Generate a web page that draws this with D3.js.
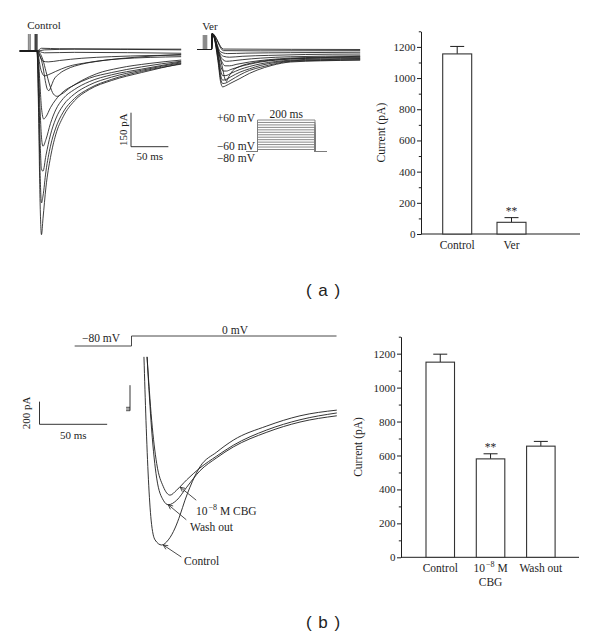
<!DOCTYPE html>
<html><head><meta charset="utf-8">
<script src="https://cdn.jsdelivr.net/npm/d3@7"></script>
<style>body{margin:0;background:#fff}</style>
</head><body>
<svg id="c" width="600" height="641" xmlns="http://www.w3.org/2000/svg"></svg>
<script>
// ---------------- DATA ----------------
// Panel (a) control current traces: [time ms, current pA]
const ctrlPreT = -23;
const ctrlTraces = [
  [[0,0],[2,-250],[4,-650],[6,-810],[8,-740],[12,-600],[18,-470],[25,-370],[35,-290],[50,-220],[70,-170],[100,-130],[140,-95],[193,-55]],
  [[0,0],[2,-200],[4,-520],[6,-670],[8,-640],[12,-530],[18,-420],[25,-340],[35,-270],[50,-210],[70,-165],[100,-125],[140,-90],[193,-58]],
  [[0,0],[2,-120],[4,-380],[6,-520],[8,-530],[12,-460],[18,-370],[25,-300],[35,-240],[50,-190],[70,-150],[100,-115],[140,-85],[193,-52]],
  [[0,0],[2,-80],[4,-250],[6,-380],[8,-420],[12,-390],[18,-320],[25,-260],[35,-210],[50,-170],[70,-135],[100,-105],[140,-80],[193,-48]],
  [[0,0],[2,-40],[4,-150],[6,-250],[9,-300],[12,-290],[18,-250],[25,-215],[35,-180],[50,-150],[70,-120],[100,-95],[140,-70],[193,-45]],
  [[0,0],[4,-20],[8,-70],[11,-130],[14,-170],[16,-175],[19,-155],[22,-130],[30,-100],[40,-80],[60,-58],[84,-44],[130,-28],[193,-15]],
  [[0,0],[4,-10],[8,-40],[12,-90],[17,-150],[22,-190],[27,-200],[33,-190],[45,-160],[60,-130],[80,-100],[110,-75],[150,-55],[193,-40]],
  [[0,0],[4,-25],[8,-45],[15,-48],[30,-42],[60,-32],[100,-25],[150,-20],[193,-18]],
  [[0,0],[5,-80],[10,-110],[15,-105],[25,-90],[40,-70],[70,-50],[110,-35],[193,-25]],
  [[0,0],[10,-8],[50,-6],[193,-10]],
  [[0,0],[10,5],[50,8],[193,5]],
  [[0,0],[6,12],[30,10],[193,8]]
];
const ctrlSpikes = [-2.5, -1.3, 0];      // capacitive transients (ms)
const ctrlArtifacts = [-11.2, -9.2];     // grey leak-pulse artifacts (ms)
const spikeAmp = 75;                     // pA

// Panel (a) verapamil traces
const verPre = [[-25,0],[-6,0],[-5,70]];
const verTraces = [
  [[3,-60],[6,-140],[9,-165],[13,-160],[20,-148],[32,-128],[45,-105],[55,-91],[75,-70],[100,-55],[140,-50],[193,-47]],
  [[3,-50],[6,-125],[9,-150],[13,-148],[20,-135],[32,-112],[45,-92],[60,-78],[80,-62],[100,-52],[140,-48],[193,-45]],
  [[3,-40],[6,-110],[9,-135],[13,-133],[20,-120],[32,-100],[45,-85],[60,-70],[80,-57],[100,-50],[140,-45],[193,-42]],
  [[3,-30],[6,-90],[9,-115],[13,-115],[20,-105],[32,-88],[45,-75],[60,-63],[80,-53],[100,-47],[140,-42],[193,-40]],
  [[3,-20],[6,-70],[10,-95],[14,-95],[20,-88],[32,-75],[45,-65],[60,-55],[80,-47],[100,-42],[140,-38],[193,-36]],
  [[4,-20],[8,-70],[12,-130],[14,-140],[17,-120],[22,-95],[32,-75],[50,-58],[80,-45],[120,-38],[193,-33]],
  [[4,-20],[8,-55],[12,-72],[18,-72],[28,-65],[45,-55],[70,-45],[100,-38],[140,-34],[193,-30]],
  [[4,-15],[8,-40],[14,-52],[22,-50],[35,-45],[60,-38],[100,-32],[193,-28]],
  [[5,-15],[10,-30],[18,-34],[35,-30],[70,-26],[120,-22],[193,-20]],
  [[6,-10],[15,-18],[40,-16],[100,-14],[193,-12]],
  [[10,-5],[60,-6],[193,-5]],
  [[10,2],[193,0]]
];
const verArtifacts = [-17, -15.5, -14, -12.5];

// Voltage protocol (a)
const protoTimes = [-40, 0, 200, 240];
const protoHold = -80;
const protoLevels = d3.range(-60, 61, 10);

// Panel (b) traces
const bTraces = {
  control: [[9.2,460],[10.7,-100],[12.5,-620],[14.5,-980],[17.4,-1155],[22.3,-1200],[27.2,-1155],[32.2,-1050],[35.9,-935],[39.5,-805],[43.2,-690],[46.9,-590],[50.6,-510],[63,-380],[75.2,-275],[100,-150],[124.5,-60],[151.7,-10]],
  cbg:     [[11.5,460],[14.9,-100],[18.6,-480],[23.5,-685],[28.5,-760],[33.4,-715],[40.8,-625],[50.6,-520],[63,-415],[75.2,-320],[100,-185],[124.5,-95],[151.7,-35]],
  wash:    [[11.5,460],[14.9,-185],[18.6,-610],[23.5,-805],[27.2,-845],[33.4,-805],[40.8,-690],[50.6,-545],[63,-430],[75.2,-335],[100,-205],[124.5,-115],[151.7,-60]]
};
const bPreBaselines = [15, 0, -15];   // pA
const bPreTimes = [-4, -1.1];
const bSpikeTop = 210;                // pA
const bProtoTimes = [-42, 0, 151.5];
const bProtoLevels = [-80, 0];

// Bar charts
const catsA = ["Control", "Ver"];
const valsA = [1155, 75];
const errsA = [48, 30];
const sigA  = ["", "**"];

const catsB = ["Control", "CBG", "Wash out"];
const valsB = [1150, 580, 655];
const errsB = [47, 30, 28];
const sigB  = ["", "**", ""];

const yTicks = d3.range(0, 1201, 200);
const yMinor = d3.range(100, 1301, 200);

// ---------------- DRAW ----------------
const svg = d3.select("#c");
const serif = "'Liberation Serif','Times New Roman',serif";
const ink = "#1e1e1e";

function txt(x, y, s, opts = {}) {
  return svg.append("text").attr("x", x).attr("y", y).text(s)
    .attr("font-family", opts.family || serif)
    .attr("font-size", opts.size || 11.5)
    .attr("fill", ink)
    .attr("text-anchor", opts.anchor || "start")
    .attr("transform", opts.rotate ? `rotate(-90,${x},${y})` : null);
}

// ---- Panel a: control traces
const xA = d3.scaleLinear().domain([0, 200]).range([37, 186.4]);
const yA = d3.scaleLinear().domain([0, -800]).range([51, 232.4]);
const lineA = d3.line().x(d => xA(d[0])).y(d => yA(d[1])).curve(d3.curveMonotoneX);
const gA = svg.append("g");
ctrlArtifacts.forEach(t => gA.append("line")
  .attr("x1", xA(t)).attr("x2", xA(t)).attr("y1", yA(0)).attr("y2", yA(spikeAmp))
  .attr("stroke", "#8a8a8a").attr("stroke-width", 1.6));
ctrlTraces.forEach(tr => gA.append("path").attr("d", lineA([[ctrlPreT, 0], ...tr]))
  .attr("fill", "none").attr("stroke", ink).attr("stroke-width", 0.85));
ctrlSpikes.forEach(t => gA.append("line")
  .attr("x1", xA(t)).attr("x2", xA(t)).attr("y1", yA(0)).attr("y2", yA(spikeAmp))
  .attr("stroke", ink).attr("stroke-width", 1.1));
txt(44, 29, "Control", {anchor: "middle", size: 11});

// scale bar (a)
{
  const x0 = 131, y0 = 146.7;
  const w = xA(50) - xA(0), h = yA(-150) - yA(0);
  svg.append("path").attr("d", `M${x0},${y0 - h}V${y0}H${x0 + w}`)
    .attr("fill", "none").attr("stroke", ink).attr("stroke-width", 0.9);
  txt(127, y0 - h / 2, "150 pA", {anchor: "middle", rotate: true, size: 11});
  txt(x0 + w / 2, 160, "50 ms", {anchor: "middle", size: 11});
}

// ---- Panel a: verapamil traces
const xV = d3.scaleLinear().domain([0, 200]).range([216, 365.4]);
const yV = d3.scaleLinear().domain([0, -800]).range([49.5, 230.9]);
const lineV = d3.line().x(d => xV(d[0])).y(d => yV(d[1])).curve(d3.curveMonotoneX);
verArtifacts.forEach(t => svg.append("line")
  .attr("x1", xV(t)).attr("x2", xV(t)).attr("y1", yV(0)).attr("y2", yV(64))
  .attr("stroke", "#8a8a8a").attr("stroke-width", 1.3));
verTraces.forEach(tr => svg.append("path").attr("d", lineV([...verPre, ...tr]))
  .attr("fill", "none").attr("stroke", ink).attr("stroke-width", 0.85));
txt(210, 30, "Ver", {anchor: "middle", size: 11});

// ---- Voltage protocol (a)
const xP = d3.scaleLinear().domain([0, 200]).range([257.5, 315]);
const yP = d3.scaleLinear().domain([-80, -60, 60]).range([151.5, 149.5, 120]);
const lineP = d3.line().x(d => xP(d[0])).y(d => yP(d[1]));
protoLevels.forEach(v => {
  const pts = [[protoTimes[0], protoHold], [protoTimes[1], protoHold], [protoTimes[1], v],
               [protoTimes[2], v], [protoTimes[2], protoHold], [protoTimes[3], protoHold]];
  svg.append("path").attr("d", lineP(pts)).attr("fill", "none")
    .attr("stroke", "#7c7c7c").attr("stroke-width", 0.9);
});
txt(255, 122, "+60 mV", {anchor: "end", size: 11.5});
txt(255, 149.5, "\u221260 mV", {anchor: "end", size: 11.5});
txt(255, 162, "\u221280 mV", {anchor: "end", size: 11.5});
txt((xP(0) + xP(200)) / 2, 118, "200 ms", {anchor: "middle", size: 11.5});

// ---- Panel b traces
const xB = d3.scaleLinear().domain([0, 150]).range([131.5, 334.5]);
const yB = d3.scaleLinear().domain([0, -1200]).range([409, 545]);
const lineB = d3.line().x(d => xB(d[0])).y(d => yB(d[1])).curve(d3.curveMonotoneX);
Object.values(bTraces).forEach(tr => svg.append("path").attr("d", lineB(tr))
  .attr("fill", "none").attr("stroke", ink).attr("stroke-width", 0.9));
bPreBaselines.forEach(b => svg.append("path")
  .attr("d", d3.line().x(d => xB(d[0])).y(d => yB(d[1]))([[bPreTimes[0], b], [bPreTimes[1], b]]))
  .attr("fill", "none").attr("stroke", ink).attr("stroke-width", 0.8));
svg.append("line").attr("x1", xB(bPreTimes[1])).attr("x2", xB(bPreTimes[1]))
  .attr("y1", yB(bPreBaselines[2])).attr("y2", yB(bSpikeTop))
  .attr("stroke", ink).attr("stroke-width", 0.9);

// protocol b
const yBp = d3.scaleLinear().domain([-80, 0]).range([346, 336]);
svg.append("path").attr("d", d3.line().x(d => xB(d[0])).y(d => yBp(d[1]))([
  [bProtoTimes[0], bProtoLevels[0]], [bProtoTimes[1], bProtoLevels[0]],
  [bProtoTimes[1], bProtoLevels[1]], [bProtoTimes[2], bProtoLevels[1]]]))
  .attr("fill", "none").attr("stroke", "#333").attr("stroke-width", 0.9);
txt(101, 342, "\u221280 mV", {anchor: "middle", size: 11.5});
txt(235, 333.5, "0 mV", {anchor: "middle", size: 11.5});

// scale bar b
{
  const x0 = 39.5, y0 = 424.3;
  const w = xB(50) - xB(0), h = yB(-200) - yB(0);
  svg.append("path").attr("d", `M${x0},${y0 - h}V${y0}H${x0 + w}`)
    .attr("fill", "none").attr("stroke", ink).attr("stroke-width", 0.9);
  txt(30, y0 - h / 2, "200 pA", {anchor: "middle", rotate: true, size: 11});
  txt(x0 + w / 2, 439, "50 ms", {anchor: "middle", size: 11});
}

// annotations with arrows
function arrow(tip, tail) {
  const ang = Math.atan2(tail[1] - tip[1], tail[0] - tip[0]);
  const L = 5, a = 0.45;
  const p1 = [tip[0] + L * Math.cos(ang + a), tip[1] + L * Math.sin(ang + a)];
  const p2 = [tip[0] + L * Math.cos(ang - a), tip[1] + L * Math.sin(ang - a)];
  svg.append("path").attr("d", `M${tail}L${tip}M${p1}L${tip}L${p2}`)
    .attr("fill", "none").attr("stroke", ink).attr("stroke-width", 0.8);
}
{
  const tipC = [xB(36), yB(-690)];
  arrow(tipC, [tipC[0] + 16, tipC[1] + 13]);
  const t = txt(196, 514.5, "10", {size: 11.5});
  t.append("tspan").text("\u22128").attr("font-size", 8).attr("dy", -4.5).attr("dx", 1);
  t.append("tspan").text(" M CBG").attr("dy", 4.5);
  const tipW = [xB(27.2), yB(-845)];
  arrow(tipW, [tipW[0] + 18, tipW[1] + 15]);
  txt(190, 530.5, "Wash out", {size: 11.5});
  const tipK = [xB(23.5), yB(-1200)];
  arrow(tipK, [tipK[0] + 18, tipK[1] + 12]);
  txt(184, 565, "Control", {size: 11.5});
}

// ---- Bar charts
function barChart(cfg) {
  const y = d3.scaleLinear().domain([0, 1300]).range([cfg.y0, cfg.y1]);
  const x = d3.scaleBand().domain(cfg.cats).range(cfg.xr).paddingInner(cfg.pad).paddingOuter(0);
  const g = svg.append("g");
  const ax = g.append("g").attr("transform", `translate(${cfg.ax},0)`)
    .call(d3.axisLeft(y).tickValues(yTicks).tickSize(4).tickSizeOuter(0).tickPadding(1.5).tickFormat(d3.format("d")));
  ax.select(".domain").attr("stroke", ink);
  ax.selectAll(".tick line").attr("stroke", ink);
  ax.selectAll("text").attr("font-family", serif).attr("font-size", 11).attr("fill", ink);
  const mn = g.append("g").attr("transform", `translate(${cfg.ax},0)`)
    .call(d3.axisLeft(y).tickValues(yMinor).tickSize(2.2).tickFormat(""));
  mn.select(".domain").remove();
  mn.selectAll(".tick line").attr("stroke", ink);
  g.append("line").attr("x1", cfg.ax).attr("x2", cfg.xEnd).attr("y1", y(0)).attr("y2", y(0))
    .attr("stroke", ink).attr("stroke-width", 1);
  const bw = x.bandwidth();
  cfg.cats.forEach((c, i) => {
    const v = cfg.vals[i], e = cfg.errs[i], cx = x(c) + bw / 2;
    g.append("line").attr("x1", cx).attr("x2", cx).attr("y1", y(v)).attr("y2", y(v + e))
      .attr("stroke", ink).attr("stroke-width", 1);
    g.append("line").attr("x1", cx - 7).attr("x2", cx + 7).attr("y1", y(v + e)).attr("y2", y(v + e))
      .attr("stroke", ink).attr("stroke-width", 1);
    g.append("rect").attr("x", x(c)).attr("y", y(v)).attr("width", bw).attr("height", y(0) - y(v))
      .attr("fill", "#fff").attr("stroke", "#333").attr("stroke-width", 1.1);
    if (cfg.sig[i]) txt(cx, y(v + e) - 3, cfg.sig[i], {anchor: "middle", size: 11.5});
  });
  txt(cfg.titleX, (cfg.y0 + y(1300)) / 2 + 0, "Current (pA)", {anchor: "middle", rotate: true, size: 11.5});
  return {x, y, bw};
}

const A = barChart({cats: catsA, vals: valsA, errs: errsA, sig: sigA,
  y0: 234, y1: 31.3, xr: [442.7, 526], pad: 0.466, ax: 421, xEnd: 580, titleX: 385});
catsA.forEach(c => txt(A.x(c) + A.bw / 2, 249, c, {anchor: "middle", size: 11.5}));

const B = barChart({cats: catsB, vals: valsB, errs: errsB, sig: sigB,
  y0: 557.3, y1: 336.7, xr: [426, 555.1], pad: 0.433, ax: 401, xEnd: 579, titleX: 361.5});
txt(B.x("Control") + B.bw / 2, 571.5, "Control", {anchor: "middle", size: 11.5});
{
  const cx = B.x("CBG") + B.bw / 2;
  const t = txt(cx, 571.5, "10", {anchor: "middle", size: 11.5});
  t.append("tspan").text("\u22128").attr("font-size", 8).attr("dy", -4.5).attr("dx", 1);
  t.append("tspan").text(" M").attr("dy", 4.5);
  txt(cx, 585.5, "CBG", {anchor: "middle", size: 11.5});
}
txt(B.x("Wash out") + B.bw / 2, 571.5, "Wash out", {anchor: "middle", size: 11.5});

// panel letters
const sans = "'Liberation Sans',Arial,sans-serif";
txt(323, 296, "( a )", {anchor: "middle", size: 17, family: sans}).attr("word-spacing", 2).attr("fill", "#222");
txt(323, 628, "( b )", {anchor: "middle", size: 17, family: sans}).attr("word-spacing", 2).attr("fill", "#222");
</script>
</body></html>
